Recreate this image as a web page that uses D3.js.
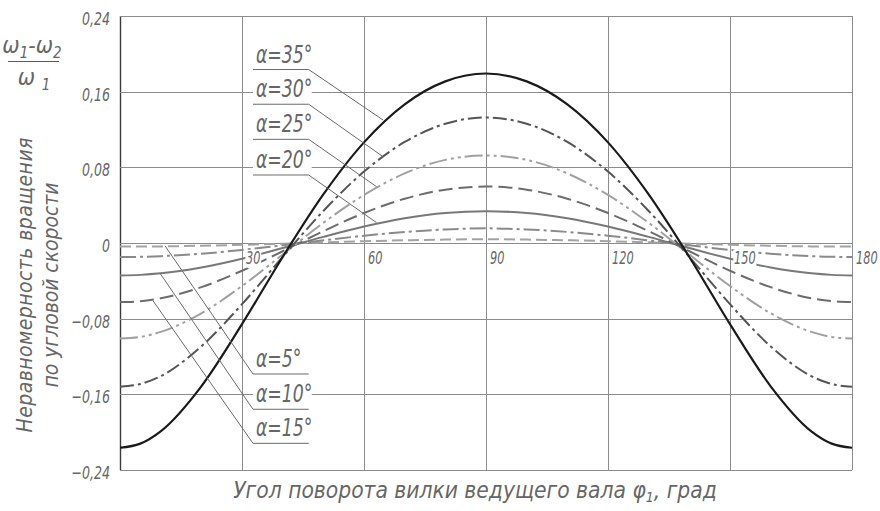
<!DOCTYPE html>
<html>
<head>
<meta charset="utf-8">
<script src="https://cdn.jsdelivr.net/npm/d3@7"></script>
<style>
  html, body { margin: 0; padding: 0; background: #fff; }
  svg { display: block; }
  text { font-family: "DejaVu Sans Condensed", "DejaVu Sans", sans-serif; font-style: italic; fill: #666; }
</style>
</head>
<body>
<svg id="chart" width="880" height="511"></svg>
<script>
// ---------- data ----------
const phi = [0, 5, 10, 20, 30, 40, 50, 60, 70, 80, 90, 100, 110, 120, 130, 140, 150, 160, 170, 175, 180];

const a5  = [-0.0038, -0.0038, -0.0036, -0.0029, -0.0019, -0.0007, 0.0007, 0.0019, 0.0029, 0.0036, 0.0040, 0.0036, 0.0029, 0.0019, 0.0007, -0.0007, -0.0019, -0.0029, -0.0036, -0.0038, -0.0038];
const a10 = [-0.0148, -0.0146, -0.0139, -0.0113, -0.0073, -0.0024, 0.0028, 0.0077, 0.0117, 0.0143, 0.0155, 0.0143, 0.0117, 0.0077, 0.0028, -0.0024, -0.0073, -0.0113, -0.0139, -0.0146, -0.0148];
const a15 = [-0.0343, -0.0337, -0.0321, -0.0259, -0.0166, -0.0053, 0.0065, 0.0174, 0.0262, 0.0318, 0.0335, 0.0318, 0.0262, 0.0174, 0.0065, -0.0053, -0.0166, -0.0259, -0.0321, -0.0337, -0.0343];
const a20 = [-0.0625, -0.0615, -0.0584, -0.0467, -0.0293, -0.0087, 0.0125, 0.0317, 0.0468, 0.0564, 0.0597, 0.0564, 0.0468, 0.0317, 0.0125, -0.0087, -0.0293, -0.0467, -0.0584, -0.0615, -0.0625];
const a25 = [-0.1010, -0.0993, -0.0940, -0.0743, -0.0455, -0.0122, 0.0213, 0.0508, 0.0736, 0.0879, 0.0925, 0.0879, 0.0736, 0.0508, 0.0213, -0.0122, -0.0455, -0.0743, -0.0940, -0.0993, -0.1010];
const a30 = [-0.1520, -0.1491, -0.1408, -0.1093, -0.0647, -0.0147, 0.0339, 0.0755, 0.1068, 0.1261, 0.1327, 0.1261, 0.1068, 0.0755, 0.0339, -0.0147, -0.0647, -0.1093, -0.1408, -0.1491, -0.1520];
const a35 = [-0.2165, -0.2121, -0.1991, -0.1515, -0.0858, -0.0148, 0.0514, 0.1064, 0.1466, 0.1709, 0.1792, 0.1709, 0.1466, 0.1064, 0.0514, -0.0148, -0.0858, -0.1515, -0.1991, -0.2121, -0.2165];

const seriesNames = ["α=5°", "α=10°", "α=15°", "α=20°", "α=25°", "α=30°", "α=35°"];
const seriesValues = [a5, a10, a15, a20, a25, a30, a35];

const xTicks = [30, 60, 90, 120, 150, 180];
const xTickLabels = ["30", "60", "90", "120", "150", "180"];
const yTicks = [0.24, 0.16, 0.08, 0, -0.08, -0.16, -0.24];
const yTickLabels = ["0,24", "0,16", "0,08", "0", "−0,08", "−0,16", "−0,24"];

// leader annotations (data units): label underline level, curve point
const labelUnderlineV = [-0.1385, -0.1758, -0.2118, 0.0719, 0.1096, 0.1467, 0.1834];
const labelTargetPhi  = [11.1, 9.8, 8.1, 63.1, 63.1, 64.7, 64.7];
const labelTargetV    = [-0.0032, -0.0317, -0.061, 0.0215, 0.0595, 0.0912, 0.130];
const labelPhiStart = 32.7, labelPhiEnd = 46.4;

const xTitle = "Угол поворота вилки ведущего вала ";
const yTitle1 = "Неравномерность вращения";
const yTitle2 = "по угловой скорости";

// ---------- styles ----------
const styles = [
  { color: "#a2a2a2", width: 2.0, dash: "11,5" },
  { color: "#8a8a8a", width: 2.0, dash: "16,4,3,4" },
  { color: "#787878", width: 2.0, dash: null },
  { color: "#6c6c6c", width: 2.0, dash: "14,6" },
  { color: "#a0a0a0", width: 2.0, dash: "18,4,3,4,3,4" },
  { color: "#555555", width: 2.0, dash: "14,4,3,4" },
  { color: "#1a1a1a", width: 2.2, dash: null }
];

// narrow (GOST-like) text helper: horizontally compressed text
function narrowText(parent, tx, ty, str, size, sx, anchor) {
  const g = parent.append("g").attr("transform", `translate(${tx},${ty}) scale(${sx},1)`);
  const t = g.append("text").attr("x", 0).attr("y", 0)
    .attr("font-size", size).attr("text-anchor", anchor || "start").text(str);
  return { g, t };
}

// ---------- scales ----------
const svg = d3.select("#chart");
const x = d3.scaleLinear().domain([0, 180]).range([120, 852]);
const y = d3.scaleLinear().domain([-0.24, 0.24]).range([470, 16]);

// ---------- grid ----------
const grid = svg.append("g");
const vGrid = [0, 30, 60, 90, 120, 150, 180];
grid.selectAll("line.v").data(vGrid).enter().append("line")
  .attr("x1", d => Math.round(x(d)) + 0.5).attr("x2", d => Math.round(x(d)) + 0.5)
  .attr("y1", y(0.24)).attr("y2", y(-0.24))
  .attr("stroke", d => d === 0 ? "#3a3a3a" : "#8c8c8c")
  .attr("stroke-width", d => d === 0 ? 1.4 : 1);
grid.selectAll("line.h").data(yTicks).enter().append("line")
  .attr("x1", x(0)).attr("x2", x(180))
  .attr("y1", d => Math.round(y(d)) + 0.5).attr("y2", d => Math.round(y(d)) + 0.5)
  .attr("stroke", "#8c8c8c").attr("stroke-width", 1);

// ---------- curves ----------
const line = d3.line()
  .x((d, i) => x(phi[i]))
  .y(d => y(d))
  .curve(d3.curveMonotoneX);

const curves = svg.append("g");
seriesValues.forEach((vals, k) => {
  const st = styles[k];
  curves.append("path")
    .attr("d", line(vals))
    .attr("fill", "none")
    .attr("stroke", st.color)
    .attr("stroke-width", st.width)
    .attr("stroke-dasharray", st.dash)
    .attr("stroke-linejoin", "round");
});

// ---------- x tick labels (with white knockout) ----------
const xlab = svg.append("g");
xTicks.forEach((t, i) => {
  const n = narrowText(xlab, x(t) + 4, y(0) + 21, xTickLabels[i], 18, 0.7, "start");
  const bb = n.t.node().getBBox();
  n.g.insert("rect", "text")
    .attr("x", bb.x - 1).attr("y", bb.y + 2)
    .attr("width", bb.width + 2).attr("height", bb.height - 3)
    .attr("fill", "#fff");
});

// ---------- y tick labels ----------
const ylab = svg.append("g");
yTicks.forEach((d, i) => {
  narrowText(ylab, 110, y(d) + 9, yTickLabels[i], 18, 0.78, "end");
});

// ---------- series labels with leaders ----------
const ann = svg.append("g");
const annText = svg.append("g");
seriesNames.forEach((name, k) => {
  const uy = y(labelUnderlineV[k]);
  const x0 = x(labelPhiStart), x1 = x(labelPhiEnd);
  const lower = labelUnderlineV[k] < 0;
  ann.append("rect")
    .attr("x", x0).attr("y", uy - 25)
    .attr("width", x1 - x0 + 3).attr("height", 22)
    .attr("fill", "#fff");
  narrowText(annText, x0 + 3, uy - 7, name, 24, 0.8, "start");
  ann.append("line")
    .attr("x1", x0).attr("x2", x1)
    .attr("y1", uy).attr("y2", uy)
    .attr("stroke", "#6a6a6a").attr("stroke-width", 1);
  ann.append("line")
    .attr("x1", lower ? x0 : x1).attr("y1", uy)
    .attr("x2", x(labelTargetPhi[k])).attr("y2", y(labelTargetV[k]))
    .attr("stroke", "#6a6a6a").attr("stroke-width", 1);
});

// ---------- axis titles ----------
const xt = svg.append("text")
  .attr("x", 475).attr("y", 498)
  .attr("text-anchor", "middle")
  .attr("font-size", 22);
xt.append("tspan").text(xTitle + "φ");
xt.append("tspan").attr("font-size", 14).attr("dy", 4).text("1");
xt.append("tspan").attr("dy", -4).text(", град");
{
  const w = xt.node().getBBox().width;
  xt.attr("font-size", 22 * 484 / w);
}

const yt = svg.append("g").attr("transform", "translate(0,285) rotate(-90)");
yt.append("text").attr("x", 0).attr("y", 32).attr("text-anchor", "middle")
  .attr("font-size", 21).attr("textLength", 295).attr("lengthAdjust", "spacing").text(yTitle1);
yt.append("text").attr("x", 0).attr("y", 58).attr("text-anchor", "middle")
  .attr("font-size", 21).attr("textLength", 205).attr("lengthAdjust", "spacing").text(yTitle2);

// ---------- fraction at top-left ----------
const fr = svg.append("g");
const num = fr.append("text").attr("x", 32).attr("y", 53).attr("text-anchor", "middle").attr("font-size", 23);
num.append("tspan").text("ω");
num.append("tspan").attr("font-size", 15).attr("dy", 5).text("1");
num.append("tspan").attr("dy", -5).text("-ω");
num.append("tspan").attr("font-size", 15).attr("dy", 5).text("2");
fr.append("line").attr("x1", 8).attr("x2", 59).attr("y1", 61.5).attr("y2", 61.5)
  .attr("stroke", "#5a5a5a").attr("stroke-width", 1.2);
const den = fr.append("text").attr("x", 34).attr("y", 85).attr("text-anchor", "middle").attr("font-size", 23);
den.append("tspan").text("ω ");
den.append("tspan").attr("font-size", 15).attr("dy", 5).text("1");
</script>
</body>
</html>
